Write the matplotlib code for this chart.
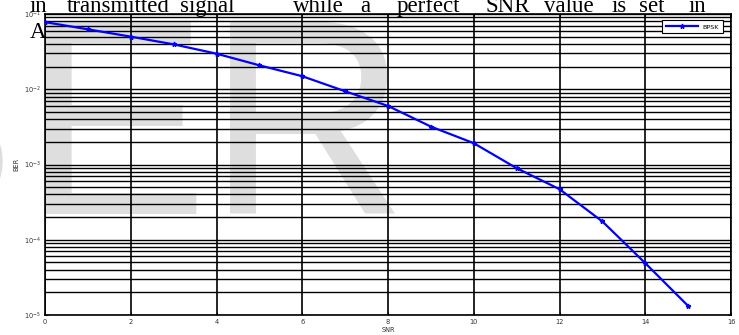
import matplotlib
matplotlib.use("Agg")
import matplotlib.pyplot as plt

# BER curve for BPSK, read per SNR step
snr = [0, 1, 2, 3, 4, 5, 6, 7, 8, 9, 10, 11, 12, 13, 14, 15]
ber = [0.078, 0.0626, 0.050, 0.0395, 0.0297, 0.0208, 0.0149, 0.0094,
       0.0060, 0.00319, 0.00192, 0.000893, 0.00047, 0.000175, 4.89e-5, 1.32e-5]

x_ticks = [0, 2, 4, 6, 8, 10, 12, 14, 16]
y_ticks = [1e-5, 1e-4, 1e-3, 1e-2, 1e-1]

# words of the page text running above the figure
words = ["in", "transmitted", "signal", "while", "a", "perfect", "SNR", "value", "is", "set", "in"]
word_x = [30, 67, 180, 293, 360, 397, 485, 544, 612, 639, 689]

W, H = 739, 335
fig = plt.figure(figsize=(W / 100, H / 100), dpi=100)
fig.patch.set_facecolor("white")

# faint watermark behind the plot
fig.text(-171 / W, 1 - 214 / H, "S", family="Liberation Sans", fontsize=200,
         color="#dedede", ha="left", va="baseline", zorder=-5)
fig.text(22 / W, 1 - 214 / H, "ER", family="Liberation Sans", fontsize=200,
         color="#dedede", ha="left", va="baseline", zorder=-5)

ax = fig.add_axes([45 / W, 20 / H, 686 / W, 301 / H])
ax.patch.set_alpha(0)

ax.semilogy(snr, ber, "-*", color="#0000ff", lw=1.6, ms=3.5, mew=1, label="BPSK", zorder=5)

ax.set_xlim(0, 16)
ax.set_ylim(1e-5, 1e-1)
ax.set_xticks(x_ticks)
ax.set_yticks(y_ticks)
ax.grid(True, which="major", axis="x", color="k", lw=1.2)
ax.grid(True, which="both", axis="y", color="k", lw=1.0)
ax.tick_params(which="both", direction="in", top=True, right=True,
               labelsize=4.8, labelcolor="#333333", length=2, width=0.6, pad=3)
for s in ax.spines.values():
    s.set_linewidth(1.2)

ax.set_xlabel("SNR", fontsize=4.8, color="#333333", labelpad=1)
ax.set_ylabel("BER", fontsize=4.8, color="#333333", labelpad=3)

leg = ax.legend(loc="upper right", fontsize=4.6, fancybox=False, framealpha=1,
                edgecolor="k", handlelength=5, borderpad=0.6, bbox_to_anchor=(0.993, 0.99))
leg.get_frame().set_linewidth(0.8)

for w, x in zip(words, word_x):
    fig.text(x / W, 1 - 12 / H, w, family="Liberation Serif", fontsize=16.5,
             ha="left", va="baseline")
fig.text(30 / W, 1 - 38 / H, "A", family="Liberation Serif", fontsize=16.5,
         ha="left", va="baseline")

fig.savefig("out.png", dpi=100)
